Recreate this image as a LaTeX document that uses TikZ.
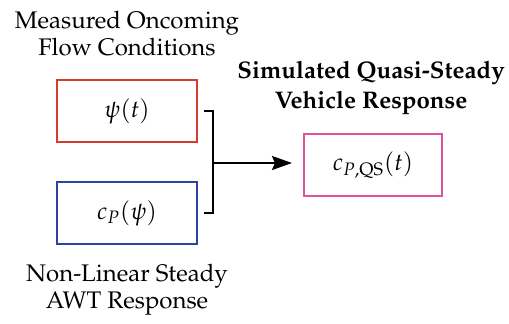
\documentclass[tikz,border=0pt]{standalone}
\usepackage[T1]{fontenc}
\usepackage{mathpazo}
\usepackage{xcolor}
\usetikzlibrary{arrows.meta,positioning,calc}
\definecolor{flowred}{HTML}{D93A30}
\definecolor{awtblue}{HTML}{2B44A0}
\definecolor{qspink}{HTML}{E0529C}
\tikzset{
  sigbox/.style={
    rectangle, draw, fill=white, line width=1pt,
    minimum width=70pt, minimum height=31pt, inner sep=2pt,
    font=\fontsize{12}{14}\selectfont
  },
  sigcaption/.style={font=\fontsize{12}{13.5}\selectfont,align=center},
  sigtitle/.style={font=\fontsize{12}{15}\selectfont\bfseries,align=center},
  sigedge/.style={line width=1pt},
  sigarrow/.style={-{Stealth[length=10pt,width=7pt,inset=1.5pt]},line width=1pt}
}
\begin{document}
\begin{tikzpicture}[x=0.5pt,y=-0.5pt]
  \useasboundingbox (0,0) rectangle (509,323);
  \node[sigbox,draw=flowred] (psi) at (127,111) {$\psi(t)$};
  \node[sigbox,draw=awtblue] (cp) at (127,213) {$c_P(\psi)$};
  \node[sigbox,draw=qspink,minimum width=69pt] (cpqs) at (373,165) {$c_{P,\mathrm{QS}}(t)$};
  \coordinate (jn) at (213,163);
  % bracket joining the two inputs
  \draw[sigedge] ([xshift=3pt]psi.east) -| (jn) |- ([xshift=3pt]cp.east);
  \draw[sigarrow,shorten >=5.5pt] (jn) -- (jn -| cpqs.west);
  \node[sigcaption] (measured) at (127,34) {Measured Oncoming\\Flow Conditions};
  \node[sigtitle] (simulated) at (371,88) {Simulated Quasi-Steady\\Vehicle Response};
  \node[sigcaption] (steady) at (127,290) {Non-Linear Steady\\AWT Response};
\end{tikzpicture}
\end{document}
